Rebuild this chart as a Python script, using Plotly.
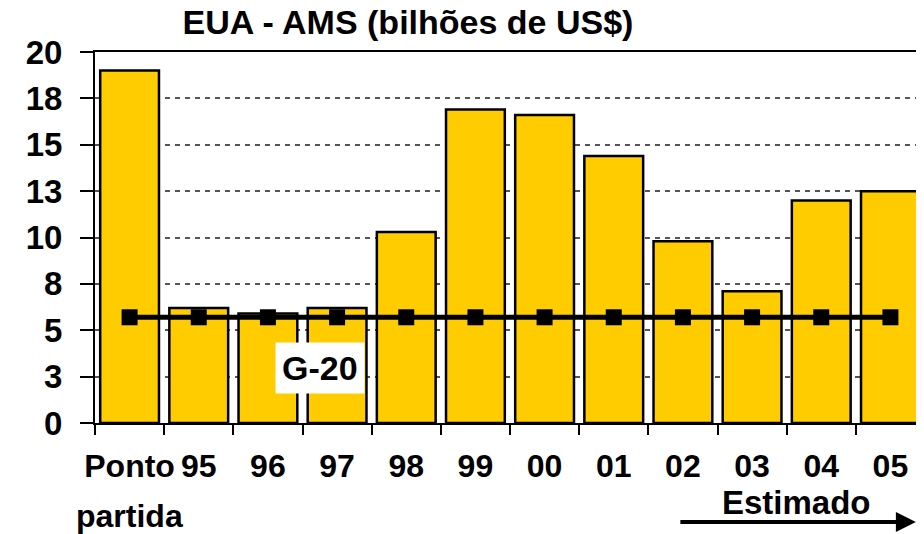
import plotly.graph_objects as go

FONT = "Arial, Liberation Sans, sans-serif"

categories = ["Ponto partida", "95", "96", "97", "98", "99", "00", "01", "02", "03", "04", "05"]
tick_text = ["Ponto", "95", "96", "97", "98", "99", "00", "01", "02", "03", "04", "05"]
ams_values = [19.0, 6.2, 5.9, 6.2, 10.3, 16.9, 16.6, 14.4, 9.8, 7.1, 12.0, 12.5]
g20_values = [5.7] * 12

y_tickvals = [0, 2.5, 5, 7.5, 10, 12.5, 15, 17.5, 20]
y_ticktext = ["0", "3", "5", "8", "10", "13", "15", "18", "20"]

fig = go.Figure()

fig.add_trace(go.Bar(
    x=categories, y=ams_values,
    marker=dict(color="#FFCC00", line=dict(color="black", width=2.5)),
    showlegend=False,
))
fig.add_trace(go.Scatter(
    x=categories, y=g20_values, mode="lines+markers",
    line=dict(color="black", width=5),
    marker=dict(symbol="square", size=16, color="black"),
    showlegend=False,
))

fig.add_annotation(
    x=0.271, xref="paper", y=2.96, yref="y",
    xanchor="center", yanchor="middle",
    text="<b>G-20</b>", showarrow=False,
    font=dict(family=FONT, size=34, color="black"),
    bgcolor="white", borderpad=6,
)
fig.add_annotation(
    x="Ponto partida", xref="x", y=-0.25, yref="paper",
    xanchor="center", yanchor="middle",
    text="<b>partida</b>", showarrow=False,
    font=dict(family=FONT, size=32, color="black"),
)
fig.add_annotation(
    x=0.8446, xref="paper", y=-0.2156, yref="paper",
    xanchor="center", yanchor="middle",
    text="<b>Estimado</b>", showarrow=False,
    font=dict(family=FONT, size=33, color="black"),
)
# seta "Estimado"
fig.add_annotation(
    x=0.989, xref="paper", y=-0.267, yref="paper",
    ax=-237, ay=0, text="", showarrow=True,
    arrowhead=2, arrowsize=1, arrowwidth=4, arrowcolor="black",
)

fig.update_xaxes(
    type="category", tickvals=categories, ticktext=tick_text, tickangle=0,
    range=[-0.5, 11.5],
    tickson="boundaries", ticks="outside", ticklen=10, tickwidth=2, tickcolor="black",
    showline=True, linecolor="black", linewidth=2, mirror=True,
    tickfont=dict(family=FONT, size=32, color="black", weight="bold"),
    ticklabelstandoff=14, automargin=False,
    showgrid=False,
)
fig.update_yaxes(
    range=[0, 20], tickvals=y_tickvals, ticktext=y_ticktext,
    ticks="outside", ticklen=13, tickwidth=2, tickcolor="black",
    showline=True, linecolor="black", linewidth=2,
    tickfont=dict(family=FONT, size=33, color="black", weight="bold"),
    ticklabelstandoff=11, automargin=False,
    showgrid=True, gridcolor="#555555", gridwidth=1.5, griddash="5px,5px",
    zeroline=False,
)

# the page sits 8px in from the top-left corner, margins compensate
fig.update_layout(
    width=924, height=534,
    title=dict(
        text="<b>EUA - AMS (bilhões de US$)</b>",
        x=0.4329, xref="container", xanchor="center",
        y=0.995, yref="container", yanchor="top",
        font=dict(family=FONT, size=34, color="black"),
    ),
    bargap=0.15,
    plot_bgcolor="white", paper_bgcolor="white",
    margin=dict(l=87, r=7, t=44, b=119),
)

fig.write_html("out.html")
